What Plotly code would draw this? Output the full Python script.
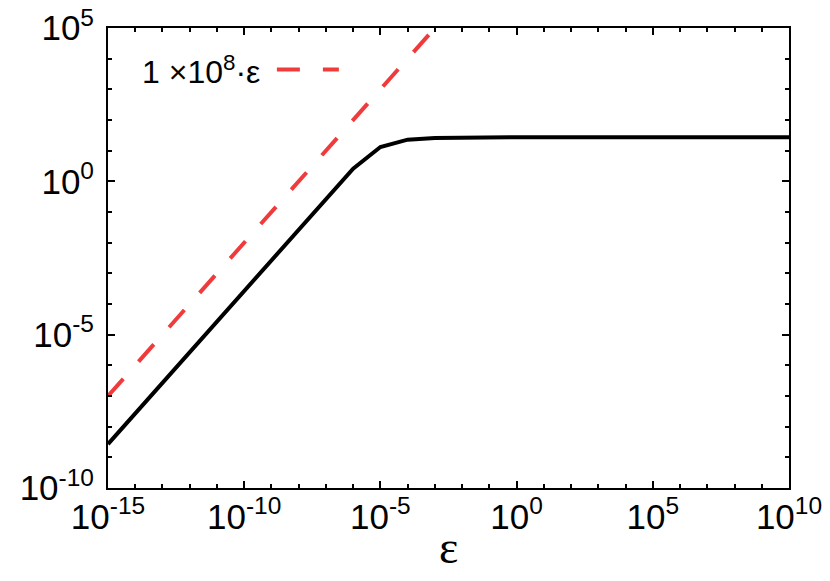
import plotly.graph_objects as go

# ---- data ----
eps = [1e-15, 1e-14, 1e-13, 1e-12, 1e-11, 1e-10, 1e-9, 1e-8, 1e-7, 1e-6,
       1e-5, 1e-4, 1e-3, 1e-2, 1e-1, 1e0, 1e1, 1e2, 1e3, 1e4, 1e5,
       1e6, 1e7, 1e8, 1e9, 1e10]
curve = [2.7e-9, 2.7e-8, 2.7e-7, 2.7e-6, 2.7e-5, 2.7e-4, 2.7e-3, 2.7e-2, 0.27, 2.6,
         13.2, 22.9, 25.8, 27.0, 27.4, 27.6, 27.6, 27.6, 27.6, 27.6, 27.6,
         27.6, 27.6, 27.6, 27.6, 27.6]

ref_eps = [1e-15, 1e-3]
ref_vals = [1e-7, 1e5]          # 1e8 * eps
legend_label = "1 \u00d710<sup>8</sup>\u00b7\u03b5"

x_major = [1e-15, 1e-10, 1e-5, 1e0, 1e5, 1e10]
x_major_text = ["10<sup>-15</sup>", "10<sup>-10</sup>", "10<sup>-5</sup>",
                "10<sup>0</sup>", "10<sup>5</sup>", "10<sup>10</sup>"]
x_minor = [1e-14, 1e-13, 1e-12, 1e-11, 1e-9, 1e-8, 1e-7, 1e-6, 1e-4, 1e-3,
           1e-2, 1e-1, 1e1, 1e2, 1e3, 1e4, 1e6, 1e7, 1e8, 1e9]
y_major = [1e-10, 1e-5, 1e0, 1e5]
y_major_text = ["10<sup>-10</sup>", "10<sup>-5</sup>", "10<sup>0</sup>", "10<sup>5</sup>"]
y_minor = [1e-9, 1e-8, 1e-7, 1e-6, 1e-4, 1e-3, 1e-2, 1e-1, 1e1, 1e2, 1e3, 1e4]

RED = "#ef3b3b"
SANS = "Liberation Sans, Arial, Helvetica, sans-serif"

fig = go.Figure()
fig.add_trace(go.Scatter(x=ref_eps, y=ref_vals, mode="lines",
                         line=dict(color=RED, width=4, dash="23px,23px"),
                         showlegend=False, hoverinfo="skip"))
fig.add_trace(go.Scatter(x=eps, y=curve, mode="lines",
                         line=dict(color="black", width=4),
                         showlegend=False, hoverinfo="skip"))

tickfont = dict(family=SANS, size=35, color="black")

fig.update_xaxes(type="log", range=[-15, 10], showgrid=False, zeroline=False,
                 showline=True, linecolor="black", linewidth=2, mirror="allticks",
                 ticks="inside", ticklen=7, tickwidth=1.5, tickcolor="black",
                 tickmode="array", tickvals=x_major, ticktext=x_major_text,
                 tickfont=tickfont, tickangle=0, ticklabelstandoff=-3,
                 ticklabeloverflow="allow", automargin=False,
                 minor=dict(tickmode="array", tickvals=x_minor, ticks="inside",
                            ticklen=4, tickwidth=1.5, tickcolor="black", showgrid=False))
fig.update_yaxes(type="log", range=[-10, 5], showgrid=False, zeroline=False,
                 showline=True, linecolor="black", linewidth=2, mirror="allticks",
                 ticks="inside", ticklen=7, tickwidth=1.5, tickcolor="black",
                 tickmode="array", tickvals=y_major, ticktext=y_major_text,
                 tickfont=tickfont, ticklabelstandoff=5,
                 ticklabeloverflow="allow", automargin=False,
                 minor=dict(tickmode="array", tickvals=y_minor, ticks="inside",
                            ticklen=4, tickwidth=1.5, tickcolor="black", showgrid=False))

# legend: text then dashed sample (gnuplot style)
fig.add_annotation(xref="paper", yref="paper", x=0.226, y=0.909,
                   xanchor="right", yanchor="middle", showarrow=False,
                   text=legend_label,
                   font=dict(family=SANS, size=32, color="black"))
fig.add_shape(type="line", xref="paper", yref="paper",
              x0=0.248, x1=0.339, y0=0.910, y1=0.910,
              line=dict(color=RED, width=4, dash="23px,23px"))

# x-axis title
fig.add_annotation(xref="paper", yref="paper", x=0.5, y=-0.13,
                   xanchor="center", yanchor="middle", showarrow=False,
                   text="\u03b5",
                   font=dict(family="Liberation Serif, Times New Roman, serif", size=46, color="black"))

# plot frame at x = 108..789, y = 28..488 in the 830x581 window
fig.update_layout(width=830, height=581,
                  margin=dict(l=108, r=41, t=28, b=93, autoexpand=False),
                  paper_bgcolor="white", plot_bgcolor="white",
                  showlegend=False)

fig.write_html("out.html",
               config={"displayModeBar": False},
               post_script="document.body.style.margin='0';document.body.style.overflow='hidden';")
